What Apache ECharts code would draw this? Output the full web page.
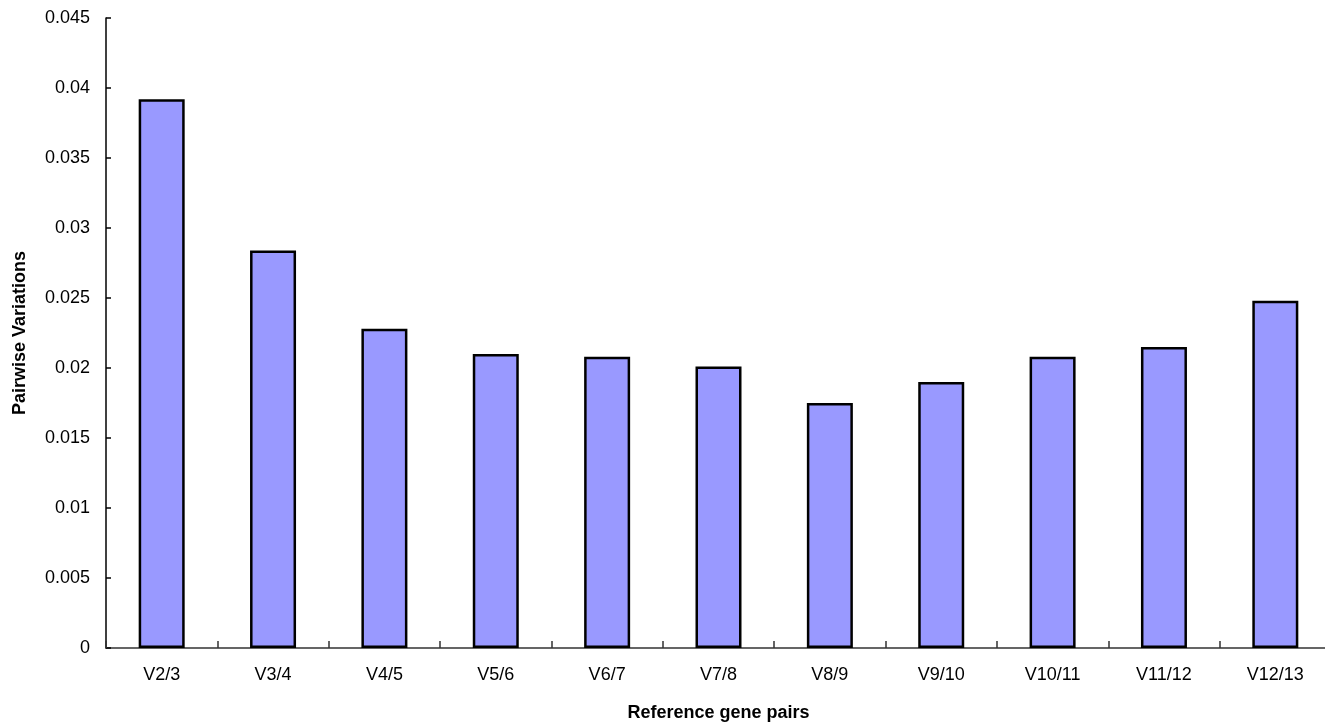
<!DOCTYPE html>
<html>
<head>
<meta charset="utf-8">
<script src="https://cdn.jsdelivr.net/npm/echarts@6/dist/echarts.min.js"></script>
<style>
html,body{margin:0;padding:0;background:#fff;}
#c{width:1325px;height:724px;}
</style>
</head>
<body>
<div id="c"></div>
<script>
const categories = ["V2/3","V3/4","V4/5","V5/6","V6/7","V7/8","V8/9","V9/10","V10/11","V11/12","V12/13"];
const values = [0.0392,0.0284,0.0228,0.0210,0.0208,0.0201,0.0175,0.0190,0.0208,0.0215,0.0248];
const yTicks = {min:0, max:0.045, interval:0.005};
const xTitle = "Reference gene pairs";
const yTitle = "Pairwise Variations";

const chart = echarts.init(document.getElementById('c'));
const font = 'Liberation Sans, Arial, sans-serif';
chart.setOption({
  animation:false,
  backgroundColor:'#fff',
  grid:{left:106,right:-6,top:18,bottom:76,containLabel:false,outerBoundsMode:'none'},
  xAxis:{
    type:'category',
    data:categories,
    name:xTitle,
    nameLocation:'middle',
    nameGap:56,
    nameTextStyle:{fontFamily:font,fontSize:18,fontWeight:'bold',color:'#000'},
    axisLine:{lineStyle:{color:'#333',width:1.5}},
    axisTick:{show:true,inside:true,length:7,alignWithLabel:false,interval:0,lineStyle:{color:'#333',width:1.5}},
    axisLabel:{fontFamily:font,fontSize:18,color:'#000',margin:18,interval:0},
    splitLine:{show:false}
  },
  yAxis:{
    type:'value',
    min:yTicks.min,max:yTicks.max,interval:yTicks.interval,
    name:yTitle,
    nameLocation:'middle',
    nameGap:77,
    nameTextStyle:{fontFamily:font,fontSize:18,fontWeight:'bold',color:'#000'},
    axisLine:{show:true,lineStyle:{color:'#000',width:1.5}},
    axisTick:{show:true,inside:true,length:5,lineStyle:{color:'#000',width:1.5}},
    axisLabel:{fontFamily:font,fontSize:18,color:'#000',margin:16,
      formatter:function(v){return String(parseFloat(v.toFixed(3)));}},
    splitLine:{show:false}
  },
  series:[{
    type:'bar',
    data:values,
    barWidth:46,
    itemStyle:{color:'#9999FF',borderColor:'#000',borderWidth:2.5}
  }]
});
</script>
</body>
</html>
